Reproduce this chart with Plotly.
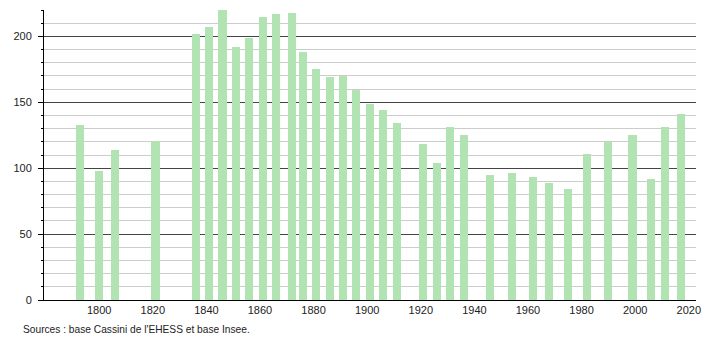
import plotly.graph_objects as go

years = [1793, 1800, 1806, 1821, 1836, 1841, 1846, 1851, 1856, 1861, 1866, 1872,
         1876, 1881, 1886, 1891, 1896, 1901, 1906, 1911, 1921, 1926, 1931, 1936,
         1946, 1954, 1962, 1968, 1975, 1982, 1990, 1999, 2006, 2011, 2017]
population = [133, 98, 114, 121, 202, 207, 220, 192, 199, 215, 217, 218,
              188, 175, 169, 170, 159, 149, 144, 134, 118, 104, 131, 125,
              95, 96, 93, 89, 84, 111, 120, 125, 92, 131, 141]
x_ticks = [1800, 1820, 1840, 1860, 1880, 1900, 1920, 1940, 1960, 1980, 2000, 2020]
y_major = [0, 50, 100, 150, 200]
source_text = "Sources : base Cassini de l'EHESS et base Insee."

fig = go.Figure()
fig.add_trace(go.Bar(
    x=years, y=population, width=3.0,
    marker=dict(color="#b2e3b2", line=dict(width=0)),
    hoverinfo="x+y",
))

font = dict(family="Liberation Sans, Arial, sans-serif", size=11, color="#222222")

fig.update_layout(
    width=710, height=340,
    margin=dict(l=44, r=9, t=10, b=40),
    paper_bgcolor="white", plot_bgcolor="white",
    showlegend=False,
    font=font,
    bargap=0,
    xaxis=dict(
        range=[1779.4, 2022.7],
        tickvals=x_ticks, ticktext=[str(v) for v in x_ticks],
        showgrid=False, zeroline=False,
        showline=True, linecolor="black", linewidth=1,
        ticks="", tickfont=font,
    ),
    yaxis=dict(
        range=[0, 220],
        tickvals=y_major, ticktext=[str(v) for v in y_major],
        showgrid=True, gridcolor="#444444", gridwidth=1,
        zeroline=False,
        showline=True, linecolor="black", linewidth=1,
        ticks="outside", ticklen=5, tickcolor="black", tickwidth=1,
        ticklabelstandoff=4,
        tickfont=font,
        minor=dict(dtick=10, tick0=0, showgrid=True, gridcolor="#cccccc",
                   gridwidth=1, ticks="outside", ticklen=2, tickcolor="black"),
        layer="below traces",
    ),
    annotations=[dict(
        text=source_text, xref="paper", yref="paper", x=0, y=0,
        xanchor="left", yanchor="middle", xshift=-23, yshift=-29,
        showarrow=False, font=dict(family="Liberation Sans, Arial, sans-serif", size=10.2, color="#222222"),
    )],
)

fig.write_html("out.html")
